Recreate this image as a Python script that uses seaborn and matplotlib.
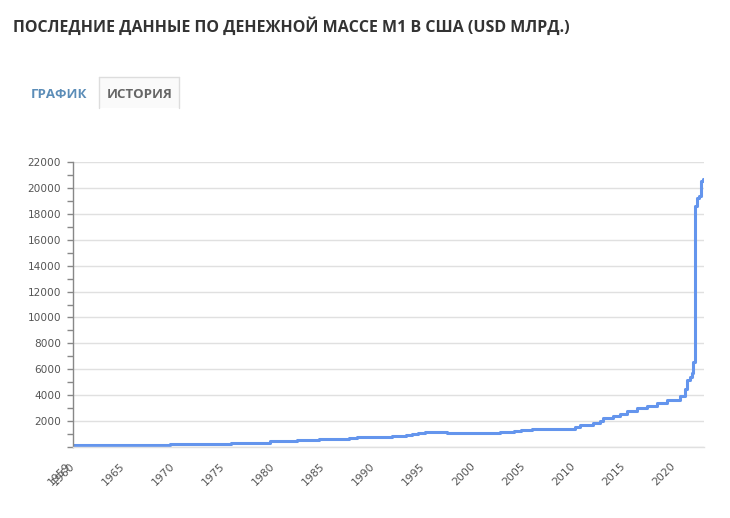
"""Денежная масса M1 в США: пошаговая линия по годам."""
import matplotlib
matplotlib.use("Agg")
import matplotlib.pyplot as plt
from matplotlib.lines import Line2D
from matplotlib.ticker import MultipleLocator
import pandas as pd
import seaborn as sns

# Значения (год начала ступени, млрд USD)
years = [1959.6, 1969.3, 1975.4, 1979.3, 1982.0, 1984.2, 1986.2, 1987.2, 1988.0,
         1991.5, 1992.9, 1993.5, 1994.1, 1994.8, 1997.0, 2002.3, 2003.7, 2004.4,
         2005.5, 2009.8, 2010.3, 2011.6, 2012.3, 2012.6, 2013.6, 2014.3, 2015.0,
         2016.0, 2017.0, 2018.0, 2019.0, 2020.3, 2020.8, 2021.0, 2021.3, 2021.5,
         2021.6, 2021.8, 2022.0, 2022.2, 2022.4, 2022.6, 2022.7]
m1_values = [150, 255, 335, 440, 520, 580, 656, 707, 758,
             860, 935, 1011, 1087, 1163, 1087, 1163, 1240, 1315,
             1391, 1540, 1690, 1846, 2000, 2205, 2360, 2513, 2744,
             2974, 3180, 3385, 3640, 3900, 4500, 5180, 5440, 5700,
             6590, 18590, 19240, 19400, 20520, 20700, 20700]

tick_years = [1959.6] + list(range(1960, 2021, 5))
tick_labels = ["1959"] + [str(y) for y in range(1960, 2021, 5)]
y_ticks = list(range(0, 22001, 2000))

title = "ПОСЛЕДНИЕ ДАННЫЕ ПО ДЕНЕЖНОЙ МАССЕ M1 В США (USD МЛРД.)"
tab_active = "ГРАФИК"
tab_other = "ИСТОРИЯ"

df = pd.DataFrame({"year": years, "m1": m1_values})

sns.set_style("white")
plt.rcParams["font.family"] = ["DejaVu Sans"]

fig = plt.figure(figsize=(7.3, 5.18), dpi=100)
ax = fig.add_axes([73 / 730, 1 - 447 / 518, (704 - 73) / 730, (447 - 162) / 518])

sns.lineplot(data=df, x="year", y="m1", ax=ax, color="#6495ED",
             linewidth=2.2, drawstyle="steps-post")

ax.set_xlim(1959.6, 2022.7)
ax.set_ylim(0, 22000)
ax.set_xticks(tick_years)
ax.set_xticklabels(tick_labels, rotation=45, ha="right", va="top")
ax.set_yticks(y_ticks)
ax.set_yticklabels([""] + [str(v) for v in y_ticks[1:]])
ax.yaxis.set_minor_locator(MultipleLocator(1000))

ax.grid(axis="y", color="#e0e0e0", linewidth=1)
ax.set_axisbelow(True)
ax.set_xlabel("")
ax.set_ylabel("")

for side in ["top", "right"]:
    ax.spines[side].set_visible(False)
ax.spines["left"].set_color("#888888")
ax.spines["left"].set_linewidth(1)
ax.spines["bottom"].set_color("#e0e0e0")
ax.spines["bottom"].set_linewidth(1)

ax.tick_params(axis="y", which="both", length=4.5, width=1, color="#888888",
               labelsize=7.6, labelcolor="#555555", pad=4, left=True)
ax.tick_params(axis="x", length=0, labelsize=7.8, labelcolor="#555555", pad=10)

# Заголовок и вкладки
fig.text(13 / 730, 1 - 27 / 518, title, fontsize=11.5, fontweight="bold",
         color="#333333", family=["Open Sans", "DejaVu Sans"], va="center")

box_l, box_r, box_t, box_b = 99 / 730, 179 / 730, 1 - 77 / 518, 1 - 108 / 518
fig.patches.append(plt.Rectangle((box_l, box_b), box_r - box_l, box_t - box_b,
                                 transform=fig.transFigure, facecolor="#fafafa",
                                 edgecolor="none", zorder=0))
for xs, ys in [([box_l, box_l], [box_b, box_t]), ([box_l, box_r], [box_t, box_t]),
               ([box_r, box_r], [box_t, box_b])]:
    fig.lines.append(Line2D(xs, ys, transform=fig.transFigure,
                            color="#dddddd", linewidth=1))

fig.text(31 / 730, 1 - 94 / 518, tab_active, fontsize=9.5, fontweight="bold",
         color="#5b8db8", family=["Open Sans", "DejaVu Sans"], va="center")
fig.text(107 / 730, 1 - 94 / 518, tab_other, fontsize=9.5, fontweight="bold",
         color="#666666", family=["Open Sans", "DejaVu Sans"], va="center")

fig.savefig("out.png", dpi=100)
plt.close(fig)
